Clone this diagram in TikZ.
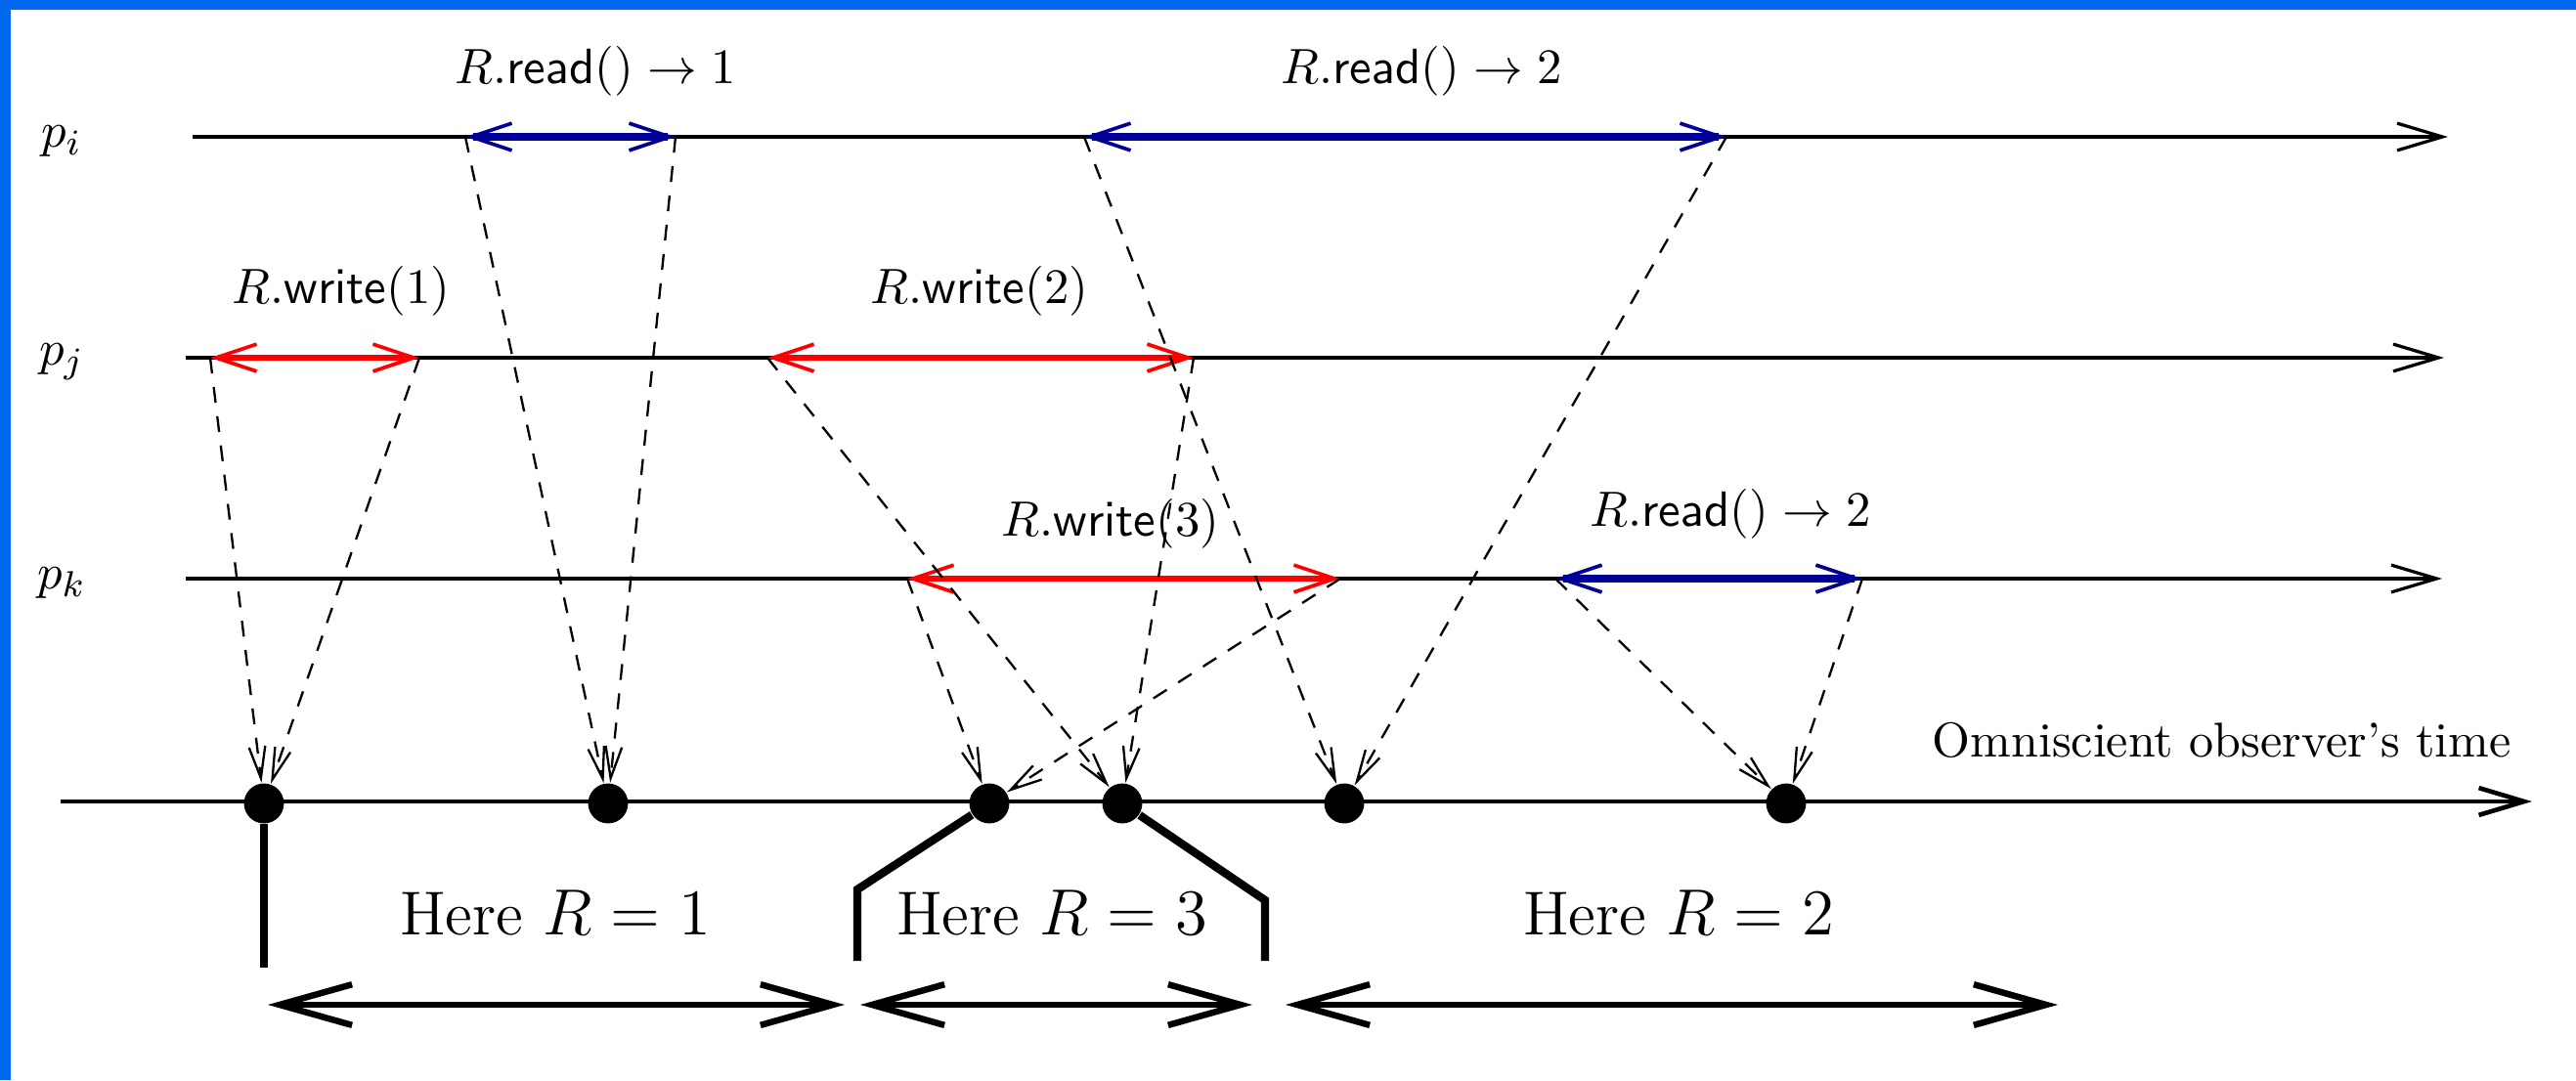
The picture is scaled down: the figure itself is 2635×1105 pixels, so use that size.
\documentclass[tikz,border=0pt]{standalone}
\usepackage{amsmath}
\usepackage{amssymb}
\usepackage{xcolor}
\usetikzlibrary{arrows.meta}
\definecolor{frameblue}{RGB}{0,104,238}
\definecolor{readblue}{RGB}{0,0,150}
\definecolor{writered}{RGB}{255,0,0}

\begin{document}
\begin{tikzpicture}[x=0.0075901cm,y=-0.0075901cm,
  proc/.style={line width=0.7pt,-{Straight Barb[length=10pt,width=6pt]}},
  opw/.style={line width=1.3pt,writered,{Straight Barb[length=9pt,width=6pt,line width=0.8pt]}-{Straight Barb[length=9pt,width=6pt,line width=0.8pt]}},
  opr/.style={line width=1.6pt,readblue,{Straight Barb[length=9pt,width=6pt,line width=0.8pt]}-{Straight Barb[length=9pt,width=6pt,line width=0.8pt]}},
  msg/.style={dash pattern=on 3.5pt off 3pt,line width=0.5pt,-{Straight Barb[length=7pt,width=3.6pt]}},
  dot/.style={circle,fill=black,inner sep=0pt,minimum size=0.31cm},
  bar/.style={line width=1.8pt},
  span/.style={line width=1.4pt,{Straight Barb[length=16pt,width=9pt]}-{Straight Barb[length=16pt,width=9pt]}},
  lbl/.style={font=\fontsize{11}{13}\selectfont},
  here/.style={font=\fontsize{13.7}{16}\selectfont}]
\useasboundingbox (0,0) rectangle (2635,1105);
\fill[white] (0,0) rectangle (2635,1105);
\fill[frameblue] (0,0) rectangle (2635,10);
\fill[frameblue] (0,0) rectangle (11,1105);

% process lines
\coordinate (pi0) at (197,140);  \coordinate (pi1) at (2504,140);
\coordinate (pj0) at (190,366);  \coordinate (pj1) at (2500,366);
\coordinate (pk0) at (190,592);  \coordinate (pk1) at (2498,592);
\coordinate (ob0) at (62,820);   \coordinate (ob1) at (2590,820);
\node[lbl] (lpi) at (63,145) {$p_i$};
\node[lbl] (lpj) at (63,370) {$p_j$};
\node[lbl] (lpk) at (63,596) {$p_k$};
\draw[proc] (pi0) -- (pi1);
\draw[proc] (pj0) -- (pj1);
\draw[proc] (pk0) -- (pk1);
\draw[proc,line width=1pt] (ob0) -- (ob1);
\node[font=\fontsize{10.8}{13}\selectfont,anchor=base east] (lob) at (2585,774) {Omniscient observer's time};

% operations
\coordinate (r1s) at (476,140);  \coordinate (r1e) at (691,140);
\coordinate (r2s) at (1109,140); \coordinate (r2e) at (1766,140);
\coordinate (w1s) at (215,366);  \coordinate (w1e) at (429,366);
\coordinate (w2s) at (785,366);  \coordinate (w2e) at (1221,366);
\coordinate (w3s) at (928,592);  \coordinate (w3e) at (1371,592);
\coordinate (r3s) at (1591,592); \coordinate (r3e) at (1905,592);
\draw[opr] (r1s) -- (r1e);
\draw[opr] (r2s) -- (r2e);
\draw[opr] (r3s) -- (r3e);
\draw[opw] (w1s) -- (w1e);
\draw[opw] (w2s) -- (w2e);
\draw[opw] (w3s) -- (w3e);
\node[lbl,anchor=base] (lr1) at (609,85) {$R.\mathsf{read}()\rightarrow 1$};
\node[lbl,anchor=base] (lr2) at (1454,85) {$R.\mathsf{read}()\rightarrow 2$};
\node[lbl,anchor=base] (lw1) at (349,310) {$R.\mathsf{write}(1)$};
\node[lbl,anchor=base] (lw2) at (1002,310) {$R.\mathsf{write}(2)$};
\node[lbl,anchor=base] (lw3) at (1136,548) {$R.\mathsf{write}(3)$};
\node[lbl,anchor=base] (lr3) at (1770,538) {$R.\mathsf{read}()\rightarrow 2$};

% linearization points
\node[dot] (d1) at (270,822) {};
\node[dot] (d2) at (622,822) {};
\node[dot] (d3) at (1012,822) {};
\node[dot] (d4) at (1148,822) {};
\node[dot] (d5) at (1375,822) {};
\node[dot] (d6) at (1827,822) {};
\draw[msg] (w1s) -- (d1);
\draw[msg] (w1e) -- (d1);
\draw[msg] (r1s) -- (d2);
\draw[msg] (r1e) -- (d2);
\draw[msg] (w3s) -- (d3);
\draw[msg] (w3e) -- (d3);
\draw[msg] (w2s) -- (d4);
\draw[msg] (w2e) -- (d4);
\draw[msg] (r2s) -- (d5);
\draw[msg] (r2e) -- (d5);
\draw[msg] (r3s) -- (d6);
\draw[msg] (r3e) -- (d6);

% value intervals
\coordinate (b1) at (270,990);
\coordinate (b3a) at (877,910);  \coordinate (b3b) at (877,983);
\coordinate (b4a) at (1294,921); \coordinate (b4b) at (1294,983);
\draw[bar] (d1) -- (b1);
\draw[bar] (d3) -- (b3a) -- (b3b);
\draw[bar] (d4) -- (b4a) -- (b4b);
\node[here,anchor=base] (h1) at (568,956) {Here $R=1$};
\node[here,anchor=base] (h3) at (1076,956) {Here $R=3$};
\node[here,anchor=base] (h2) at (1717,956) {Here $R=2$};
\coordinate (s1a) at (274,1028);  \coordinate (s1b) at (864,1028);
\coordinate (s3a) at (880,1028);  \coordinate (s3b) at (1281,1028);
\coordinate (s2a) at (1315,1028); \coordinate (s2b) at (2105,1028);
\draw[span] (s1a) -- (s1b);
\draw[span] (s3a) -- (s3b);
\draw[span] (s2a) -- (s2b);
\end{tikzpicture}
\end{document}
